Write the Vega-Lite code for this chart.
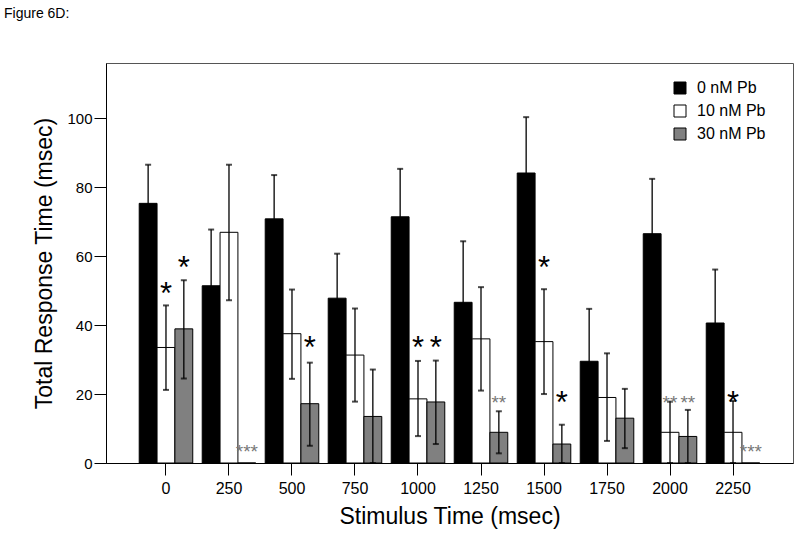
{
  "$schema": "https://vega.github.io/schema/vega-lite/v6.json",
  "width": 687,
  "height": 400,
  "autosize": {"type": "none"},
  "padding": {"left": 106, "top": 63, "right": 7, "bottom": 75},
  "title": {"text": "Figure 6D:", "anchor": "start", "frame": "group", "dx": -102, "offset": 31, "baseline": "alphabetic", "fontSize": 14, "fontWeight": "normal", "color": "#000000"},
  "config": {
    "font": "Liberation Sans",
    "view": {"stroke": "#555555", "strokeWidth": 1},
    "axis": {"grid": false, "domainColor": "#000000", "tickColor": "#000000", "labelColor": "#000000", "titleColor": "#000000", "titleFontWeight": "normal", "labelFont": "Liberation Sans", "titleFont": "Liberation Sans"},
    "legend": {"labelFont": "Liberation Sans", "labelColor": "#000000"}
  },
  "datasets": {
    "bars": [
      {"t": "0", "g": "0 nM Pb", "v": 75.3, "lo": 64.1, "hi": 86.5},
      {"t": "0", "g": "10 nM Pb", "v": 33.5, "lo": 21.2, "hi": 45.7},
      {"t": "0", "g": "30 nM Pb", "v": 38.9, "lo": 24.5, "hi": 53.0},
      {"t": "250", "g": "0 nM Pb", "v": 51.4, "lo": 35.1, "hi": 67.7},
      {"t": "250", "g": "10 nM Pb", "v": 66.9, "lo": 47.2, "hi": 86.5},
      {"t": "250", "g": "30 nM Pb", "v": 0, "lo": null, "hi": null},
      {"t": "500", "g": "0 nM Pb", "v": 70.8, "lo": 58.1, "hi": 83.5},
      {"t": "500", "g": "10 nM Pb", "v": 37.5, "lo": 24.4, "hi": 50.3},
      {"t": "500", "g": "30 nM Pb", "v": 17.2, "lo": 5.0, "hi": 29.1},
      {"t": "750", "g": "0 nM Pb", "v": 47.8, "lo": 34.9, "hi": 60.7},
      {"t": "750", "g": "10 nM Pb", "v": 31.3, "lo": 17.8, "hi": 44.8},
      {"t": "750", "g": "30 nM Pb", "v": 13.5, "lo": 0, "hi": 27.1},
      {"t": "1000", "g": "0 nM Pb", "v": 71.4, "lo": 57.5, "hi": 85.3},
      {"t": "1000", "g": "10 nM Pb", "v": 18.6, "lo": 7.8, "hi": 29.6},
      {"t": "1000", "g": "30 nM Pb", "v": 17.7, "lo": 5.5, "hi": 29.7},
      {"t": "1250", "g": "0 nM Pb", "v": 46.6, "lo": 28.9, "hi": 64.3},
      {"t": "1250", "g": "10 nM Pb", "v": 36.0, "lo": 21.0, "hi": 51.0},
      {"t": "1250", "g": "30 nM Pb", "v": 8.9, "lo": 2.8, "hi": 15.0},
      {"t": "1500", "g": "0 nM Pb", "v": 84.1, "lo": 67.9, "hi": 100.3},
      {"t": "1500", "g": "10 nM Pb", "v": 35.2, "lo": 20.0, "hi": 50.4},
      {"t": "1500", "g": "30 nM Pb", "v": 5.5, "lo": 0, "hi": 11.1},
      {"t": "1750", "g": "0 nM Pb", "v": 29.5, "lo": 14.3, "hi": 44.7},
      {"t": "1750", "g": "10 nM Pb", "v": 19.0, "lo": 6.4, "hi": 31.8},
      {"t": "1750", "g": "30 nM Pb", "v": 13.0, "lo": 4.3, "hi": 21.5},
      {"t": "2000", "g": "0 nM Pb", "v": 66.5, "lo": 50.6, "hi": 82.4},
      {"t": "2000", "g": "10 nM Pb", "v": 8.9, "lo": 0, "hi": 17.8},
      {"t": "2000", "g": "30 nM Pb", "v": 7.7, "lo": 0, "hi": 15.4},
      {"t": "2250", "g": "0 nM Pb", "v": 40.6, "lo": 25.1, "hi": 56.1},
      {"t": "2250", "g": "10 nM Pb", "v": 8.9, "lo": 0, "hi": 18.0},
      {"t": "2250", "g": "30 nM Pb", "v": 0, "lo": null, "hi": null}
    ],
    "stars": [
      {"t": "0", "g": "10 nM Pb", "y": 51.1, "label": "*", "kind": "big"},
      {"t": "0", "g": "30 nM Pb", "y": 58.8, "label": "*", "kind": "big"},
      {"t": "500", "g": "30 nM Pb", "y": 35.4, "label": "*", "kind": "big"},
      {"t": "1000", "g": "10 nM Pb", "y": 35.4, "label": "*", "kind": "big"},
      {"t": "1000", "g": "30 nM Pb", "y": 35.4, "label": "*", "kind": "big"},
      {"t": "1500", "g": "10 nM Pb", "y": 58.8, "label": "*", "kind": "big"},
      {"t": "1500", "g": "30 nM Pb", "y": 19.7, "label": "*", "kind": "big"},
      {"t": "2250", "g": "10 nM Pb", "y": 19.7, "label": "*", "kind": "big"},
      {"t": "250", "g": "30 nM Pb", "y": 4.7, "label": "***", "kind": "small"},
      {"t": "1250", "g": "30 nM Pb", "y": 18.7, "label": "**", "kind": "small"},
      {"t": "2000", "g": "10 nM Pb", "y": 18.7, "label": "**", "kind": "small"},
      {"t": "2000", "g": "30 nM Pb", "y": 18.7, "label": "**", "kind": "small"},
      {"t": "2250", "g": "30 nM Pb", "y": 4.7, "label": "***", "kind": "small"}
    ]
  },
  "encoding": {
    "x": {
      "field": "t", "type": "ordinal",
      "sort": ["0", "250", "500", "750", "1000", "1250", "1500", "1750", "2000", "2250"],
      "scale": {"paddingInner": 0.15, "paddingOuter": 0.527},
      "axis": {"title": "Stimulus Time (msec)", "labelAngle": 0, "labelFontSize": 16, "titleFontSize": 23, "tickSize": 12, "labelPadding": 5, "titlePadding": 9, "domainWidth": 1, "tickWidth": 1}
    },
    "xOffset": {"field": "g", "type": "nominal", "sort": ["0 nM Pb", "10 nM Pb", "30 nM Pb"]}
  },
  "layer": [
    {
      "data": {"name": "bars"},
      "mark": {"type": "bar", "stroke": "#000000", "strokeWidth": 1},
      "encoding": {
        "y": {
          "field": "v", "type": "quantitative",
          "scale": {"domain": [0, 116], "nice": false, "zero": true},
          "axis": {"title": "Total Response Time (msec)", "values": [0, 20, 40, 60, 80, 100], "labelFontSize": 15, "titleFontSize": 23, "tickSize": 12, "labelPadding": 2, "titlePadding": 10, "domainWidth": 1, "tickWidth": 1}
        },
        "fill": {
          "field": "g", "type": "nominal",
          "scale": {"domain": ["0 nM Pb", "10 nM Pb", "30 nM Pb"], "range": ["#000000", "#ffffff", "#808080"]},
          "legend": {"title": null, "orient": "none", "legendX": 566, "legendY": 17, "symbolType": "square", "symbolSize": 144, "symbolStrokeColor": "#000000", "symbolStrokeWidth": 1, "labelFontSize": 16, "labelOffset": 9, "rowPadding": 7}
        }
      }
    },
    {
      "data": {"name": "bars"},
      "transform": [{"filter": "datum.hi != null"}],
      "mark": {"type": "rule", "color": "#000000", "strokeWidth": 1.3},
      "encoding": {
        "y": {"field": "lo", "type": "quantitative"},
        "y2": {"field": "hi"}
      }
    },
    {
      "data": {"name": "bars"},
      "transform": [{"filter": "datum.hi != null"}],
      "mark": {"type": "tick", "color": "#000000", "size": 6, "thickness": 2},
      "encoding": {"y": {"field": "hi", "type": "quantitative"}}
    },
    {
      "data": {"name": "bars"},
      "transform": [{"filter": "datum.hi != null"}],
      "mark": {"type": "tick", "color": "#000000", "size": 6, "thickness": 2},
      "encoding": {"y": {"field": "lo", "type": "quantitative"}}
    },
    {
      "data": {"name": "stars"},
      "transform": [{"filter": "datum.kind == 'big'"}],
      "mark": {"type": "text", "fontSize": 31, "color": "#000000", "baseline": "alphabetic", "align": "center", "dy": 17.5},
      "encoding": {
        "y": {"field": "y", "type": "quantitative"},
        "text": {"field": "label"}
      }
    },
    {
      "data": {"name": "stars"},
      "transform": [{"filter": "datum.kind == 'small'"}],
      "mark": {"type": "text", "fontSize": 19, "color": "#777777", "baseline": "alphabetic", "align": "center", "dy": 10.8},
      "encoding": {
        "y": {"field": "y", "type": "quantitative"},
        "text": {"field": "label"}
      }
    }
  ]
}
